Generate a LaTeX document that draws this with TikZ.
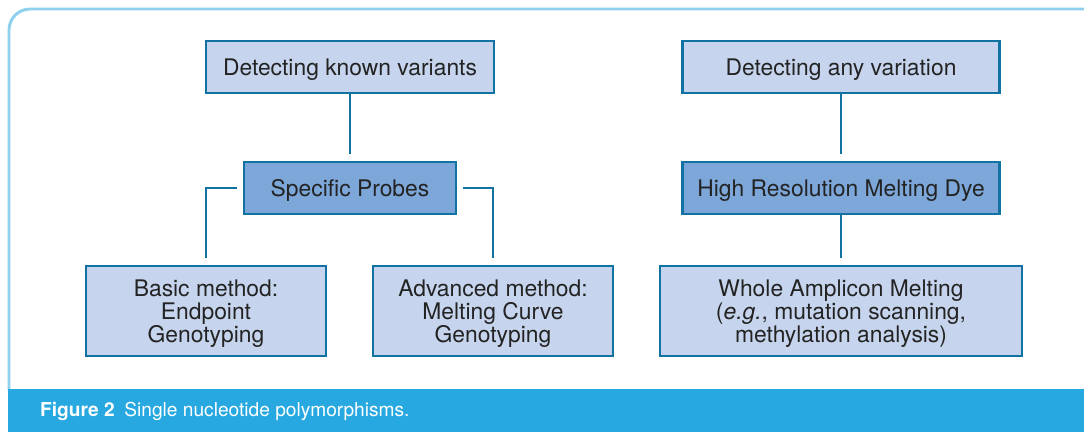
\documentclass[tikz,border=0pt]{standalone}
\usepackage{fontspec}
\setmainfont{TeX Gyre Heros}

\definecolor{boxline}{RGB}{18,114,162}
\definecolor{lightfill}{RGB}{198,213,237}
\definecolor{darkfill}{RGB}{124,167,216}
\definecolor{framecol}{RGB}{142,208,238}
\definecolor{barcol}{RGB}{39,168,224}
\definecolor{textgray}{RGB}{35,35,35}

\tikzset{
  lightbox/.style={draw=boxline, line width=1.6pt, fill=lightfill, align=center,
    text=textgray, font=\fontsize{13}{13}\selectfont, inner sep=2pt, text depth=0pt},
  darkbox/.style={lightbox, fill=darkfill},
  link/.style={draw=boxline, line width=1.4pt}
}

\begin{document}
\begin{tikzpicture}[x=0.02cm, y=-0.02cm]
    \useasboundingbox (0,0) rectangle (1084,432);

    % frame and caption bar
    \draw [framecol, line width=1.7pt, rounded corners=12] (9,390) -- (9,9) -- (1095,9);
    \fill [barcol] (8,389) rectangle (1084,432);
    \node [anchor=west, text=white, font=\fontsize{10.9}{12}\selectfont] (caption) at (34,411)
      {\textbf{Figure 2}\enspace Single nucleotide polymorphisms.};

    \def \toph {1.04cm}
    \def \both {1.8cm}

    \node [lightbox, minimum width=5.76cm, minimum height=\toph] (known) at (350,67) {Detecting known variants};
    \node [lightbox, minimum width=6.34cm, minimum height=\toph] (anyvar) at (841,67) {Detecting any variation};

    \node [darkbox, minimum width=4.24cm, minimum height=\toph] (probes) at (350,188) {Specific Probes};
    \node [darkbox, minimum width=6.34cm, minimum height=\toph] (hrm) at (841,188) {High Resolution Melting Dye};

    \node [lightbox, minimum width=4.8cm, minimum height=\both] (basic) at (206,311) {Basic method:\\Endpoint\\Genotyping};
    \node [lightbox, minimum width=4.8cm, minimum height=\both] (advanced) at (493,311) {Advanced method:\\Melting Curve\\Genotyping};
    \node [lightbox, minimum width=7.24cm, minimum height=\both] (whole) at (841,311)
      {Whole Amplicon Melting\\(\textit{e.g.}, mutation scanning,\\methylation analysis)};

    \foreach \a/\b in {known/probes, anyvar/hrm, hrm/whole}
      \draw [link, shorten >=4pt] (\a) -- (\b);

    \draw [link, shorten <=3pt, shorten >=3.5pt] (probes.west) -| (basic.north);
    \draw [link, shorten <=3pt, shorten >=3.5pt] (probes.east) -| (advanced.north);
\end{tikzpicture}
\end{document}
